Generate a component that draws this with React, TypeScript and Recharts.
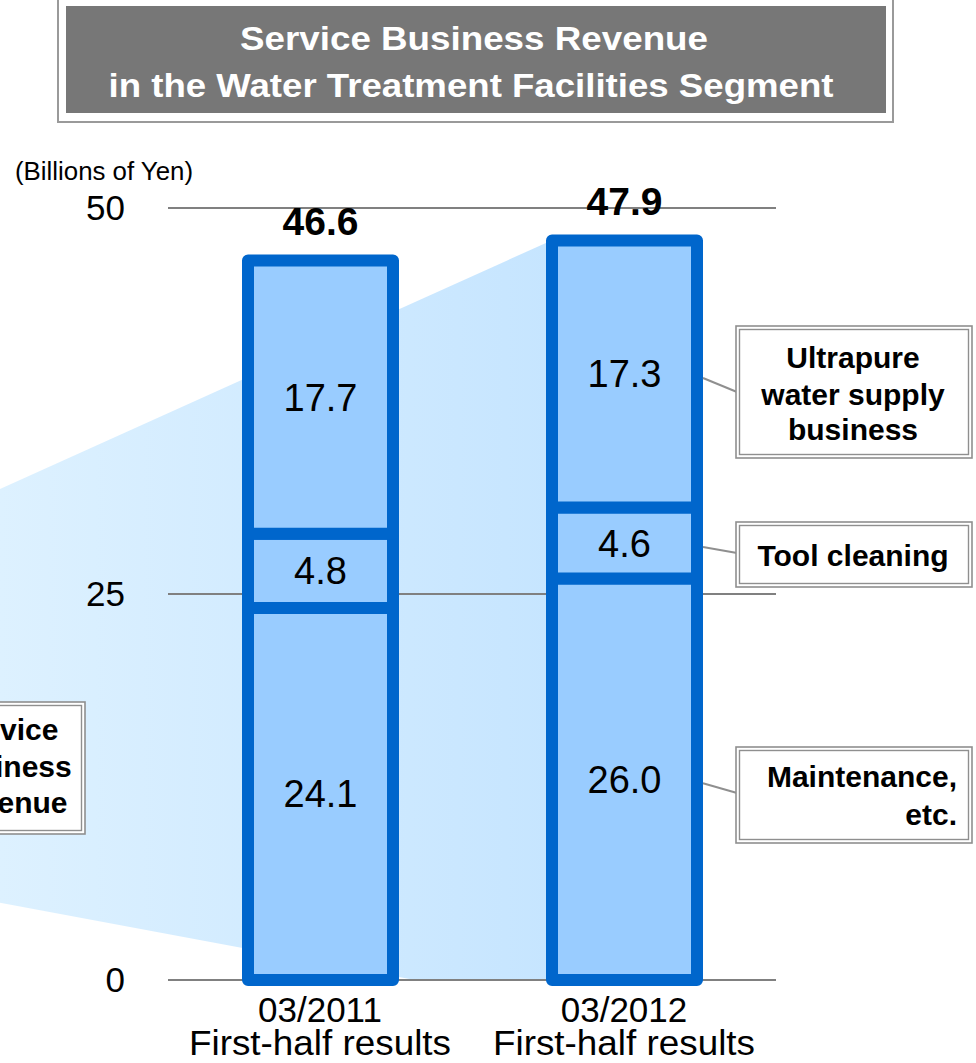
import { BarChart, Bar, XAxis, YAxis, CartesianGrid, LabelList } from 'recharts';

// values in billions of yen
const periods = ['03/2011', '03/2012'];
const periodNote = 'First-half results';
const maintenance = [24.1, 26.0];
const toolCleaning = [4.8, 4.6];
const ultrapure = [17.7, 17.3];
const totals = [46.6, 47.9];
const yTicks = [0, 25, 50];

const data = periods.map((period, i) => ({
  period,
  maintenance: maintenance[i],
  toolCleaning: toolCleaning[i],
  ultrapure: ultrapure[i],
  total: totals[i],
}));

const W = 976;
const H = 1063;
const PLOT_LEFT = 168;
const PLOT_RIGHT = 776;
const PLOT_TOP = 208;
const PLOT_BOTTOM = 980;
const Y_MAX = 50;
const BAR_SIZE = 145;

const FONT = '"Liberation Sans", Arial, sans-serif';
const BAR_FILL = '#99CCFF';
const BAR_STROKE = '#0066CC';
const BOX_LINE = '#8f8f8f';

// mirrors the chart's own layout so the background fan lines up with bar 2
const yOf = (v: number) => PLOT_TOP + (1 - v / Y_MAX) * (PLOT_BOTTOM - PLOT_TOP);
const bandCenter = (i: number) =>
  PLOT_LEFT + ((PLOT_RIGHT - PLOT_LEFT) / periods.length) * (i + 0.5);

const fmt = (v: any) => Number(v).toFixed(1);

type SegmentProps = {
  x?: number;
  y?: number;
  width?: number;
  height?: number;
  index?: number;
  connectTo?: number;
};

function Segment({ x = 0, y = 0, width = 0, height = 0, index, connectTo }: SegmentProps) {
  return (
    <g>
      <rect
        x={x}
        y={y}
        width={width}
        height={height}
        fill={BAR_FILL}
        stroke={BAR_STROKE}
        strokeWidth={12}
        strokeLinejoin="round"
      />
      {index === 1 && connectTo !== undefined && (
        <line
          x1={x + width + 6}
          y1={y + height / 2 + 4}
          x2={737}
          y2={connectTo}
          stroke={BOX_LINE}
          strokeWidth={2}
        />
      )}
    </g>
  );
}

function PeriodTick({ x, y, payload }: any) {
  return (
    <g fontFamily={FONT} fontSize={35} fill="#000">
      <text x={x} y={y + 42} textAnchor="middle">
        {payload.value}
      </text>
      <text x={x} y={y + 75} textAnchor="middle" textLength={262} lengthAdjust="spacingAndGlyphs">
        {periodNote}
      </text>
    </g>
  );
}

function DoubleBox({ x, y, w, h }: { x: number; y: number; w: number; h: number }) {
  return (
    <g>
      <rect x={x} y={y} width={w} height={h} fill="#fff" stroke={BOX_LINE} strokeWidth={1.6} />
      <rect x={x + 3.5} y={y + 3.5} width={w - 7} height={h - 7} fill="none" stroke={BOX_LINE} strokeWidth={1.4} />
    </g>
  );
}

function Fan() {
  const rx = bandCenter(1) - BAR_SIZE / 2;
  const pts = [
    [0, yOf(31.8)],
    [rx, yOf(totals[1])],
    [rx, yOf(0)],
    [415, yOf(0)],
    [0, yOf(5)],
  ]
    .map((p) => p.join(','))
    .join(' ');
  return (
    <svg width={W} height={H} style={{ position: 'absolute', left: 0, top: 0 }}>
      <defs>
        <linearGradient id="fanFill" x1="0" y1="0" x2="1" y2="0">
          <stop offset="0%" stopColor="#DDF1FF" />
          <stop offset="100%" stopColor="#C6E5FF" />
        </linearGradient>
      </defs>
      <polygon points={pts} fill="url(#fanFill)" />
    </svg>
  );
}

function Annotations() {
  const bold = { fontFamily: FONT, fontWeight: 700, fontSize: 30, fill: '#000' };
  return (
    <svg width={W} height={H} style={{ position: 'absolute', left: 0, top: 0 }}>
      {/* title */}
      <rect x={58} y={-10} width={835} height={132} fill="#fff" stroke="#9a9a9a" strokeWidth={2} />
      <rect x={66} y={6} width={820} height={107} fill="#777777" />
      <g fontFamily={FONT} fontWeight={700} fontSize={34} fill="#fff">
        <text x={474} y={50} textAnchor="middle" textLength={468} lengthAdjust="spacingAndGlyphs">
          Service Business Revenue
        </text>
        <text x={471} y={97} textAnchor="middle" textLength={725} lengthAdjust="spacingAndGlyphs">
          in the Water Treatment Facilities Segment
        </text>
      </g>

      <text x={15} y={180} fontFamily={FONT} fontSize={25} fill="#000" textLength={178} lengthAdjust="spacingAndGlyphs">
        (Billions of Yen)
      </text>

      {/* left callout, cut by the page edge */}
      <DoubleBox x={-80} y={702} w={165} h={132} />
      <g {...bold} textAnchor="middle">
        <text x={5} y={740}>Service</text>
        <text x={5} y={777}>Business</text>
        <text x={5} y={813}>Revenue</text>
      </g>

      {/* right callouts */}
      <DoubleBox x={736} y={326} w={236} h={132} />
      <g {...bold} textAnchor="middle">
        <text x={853} y={368}>Ultrapure</text>
        <text x={853} y={405}>water supply</text>
        <text x={853} y={440}>business</text>
      </g>

      <DoubleBox x={736} y={522} w={236} h={65} />
      <text {...bold} x={853} y={566} textAnchor="middle">
        Tool cleaning
      </text>

      <DoubleBox x={736} y={747} w={236} h={96} />
      <g {...bold} textAnchor="end">
        <text x={957} y={787}>Maintenance,</text>
        <text x={957} y={825}>etc.</text>
      </g>
    </svg>
  );
}

const labelStyle = { fontFamily: FONT, fontSize: 38, fill: '#000' };

export default function App() {
  return (
    <div style={{ position: 'absolute', left: 0, top: 0, width: W, height: H, background: '#fff' }}>
      <Fan />
      <div style={{ position: 'absolute', left: 0, top: 0 }}>
        <BarChart
          width={W}
          height={H}
          data={data}
          margin={{ top: PLOT_TOP, right: W - PLOT_RIGHT, bottom: 0, left: PLOT_LEFT - 60 }}
          barSize={BAR_SIZE}
        >
          <CartesianGrid vertical={false} stroke="#808080" strokeWidth={2} />
          <XAxis
            dataKey="period"
            height={H - PLOT_BOTTOM}
            axisLine={false}
            tickLine={false}
            tickSize={0}
            tickMargin={0}
            tick={<PeriodTick />}
            interval={0}
          />
          <YAxis
            width={60}
            domain={[0, Y_MAX]}
            ticks={yTicks}
            axisLine={false}
            tickLine={false}
            tickSize={0}
            tickMargin={43}
            tick={{ fontFamily: FONT, fontSize: 35, fill: '#000' }}
          />
          <Bar
            dataKey="maintenance"
            stackId="rev"
            isAnimationActive={false}
            shape={(p: any) => <Segment {...p} connectTo={793} />}
          >
            <LabelList dataKey="maintenance" position="center" formatter={fmt} {...labelStyle} />
          </Bar>
          <Bar
            dataKey="toolCleaning"
            stackId="rev"
            isAnimationActive={false}
            shape={(p: any) => <Segment {...p} connectTo={553} />}
          >
            <LabelList dataKey="toolCleaning" position="center" formatter={fmt} {...labelStyle} />
          </Bar>
          <Bar
            dataKey="ultrapure"
            stackId="rev"
            isAnimationActive={false}
            shape={(p: any) => <Segment {...p} connectTo={392} />}
          >
            <LabelList dataKey="ultrapure" position="center" formatter={fmt} {...labelStyle} />
            <LabelList
              dataKey="total"
              position="top"
              offset={25}
              formatter={fmt}
              fontFamily={FONT}
              fontSize={39}
              fontWeight={700}
              fill="#000"
            />
          </Bar>
        </BarChart>
      </div>
      <Annotations />
    </div>
  );
}
